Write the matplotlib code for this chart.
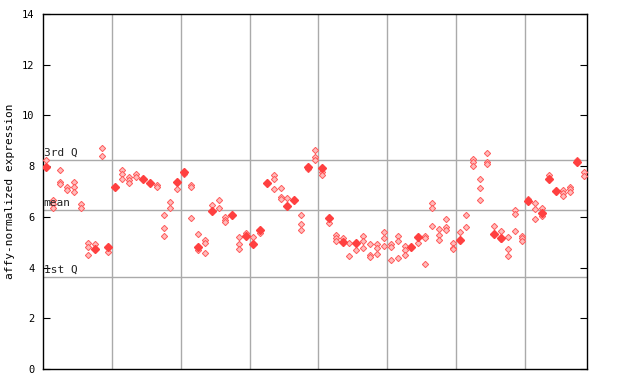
import matplotlib
matplotlib.use("Agg")
import matplotlib.pyplot as plt

# per-sample values (light hatched diamonds) and the highlighted (solid) value
sample_values = [
    [8.24], [6.66, 6.5, 6.35], [7.85, 7.37, 7.3], [7.17, 7.06], [7.37, 7.17, 6.98],
    [6.5, 6.35], [4.97, 4.8, 4.5], [4.93], [8.7, 8.4], [4.6],
    [], [7.85, 7.7, 7.5], [7.57, 7.45, 7.33], [7.7, 7.57], [],
    [], [7.25, 7.18], [6.07, 5.56, 5.24], [6.58, 6.35], [7.09],
    [7.7], [7.25, 7.18, 5.95], [5.32, 4.7], [5.08, 4.97, 4.57], [6.47],
    [6.66, 6.35], [6.0, 5.88, 5.8], [], [5.2, 4.93, 4.73], [5.36],
    [5.2], [5.36], [], [7.65, 7.49, 7.1], [7.14, 6.78, 6.7],
    [6.74], [], [6.07, 5.72, 5.48], [7.89], [8.64, 8.36, 8.24],
    [7.77, 7.65], [5.76], [5.28, 5.17, 5.05], [5.17], [4.97, 4.46],
    [4.69], [5.24, 5.05, 4.77], [4.93, 4.5, 4.42], [4.93, 4.77, 4.53], [5.4, 5.17, 4.85],
    [4.93, 4.81, 4.3], [5.24, 5.05, 4.38], [4.85, 4.69, 4.5], [], [4.97],
    [5.24, 5.17, 4.14], [6.55, 6.35, 5.64], [5.52, 5.28, 5.08], [5.91, 5.6, 5.48], [4.97, 4.77, 4.73],
    [5.4], [6.07, 5.6], [8.28, 8.16, 8.0], [7.49, 7.14, 6.66], [8.52, 8.16, 8.08],
    [5.64], [5.44, 5.13], [5.2, 4.73, 4.46], [6.27, 6.11, 5.44], [5.24, 5.17, 5.05],
    [6.7], [6.55, 6.31, 5.91], [6.35, 6.03], [7.65], [],
    [7.06, 6.94, 6.82], [7.18, 7.1, 6.98], [8.24], [7.77, 7.61],
]
highlight = [
    7.98, None, None, None, None, None, None, 4.72, None, 4.8,
    7.18, None, None, None, 7.5, 7.33, None, None, None, 7.36,
    7.77, None, 4.8, None, 6.23, None, None, 6.07, None, 5.24,
    4.93, 5.48, 7.33, None, None, 6.43, 6.66, None, 7.96, None,
    7.92, 5.95, None, 5.0, None, 4.97, None, None, None, None,
    None, None, None, 4.8, 5.2, None, None, None, None, None,
    5.08, None, None, None, None, 5.32, 5.17, None, None, None,
    6.62, None, 6.15, 7.49, 7.02, None, None, 8.16, None,
]
group_edges = [10, 20, 30, 40, 50, 60, 70]
q3, mean, q1 = 8.24, 6.27, 3.63
yticks = [0, 2, 4, 6, 8, 10, 12, 14]

mono = "DejaVu Sans Mono"
fig = plt.figure(figsize=(6.4, 3.84), dpi=100)
ax = fig.add_axes([43 / 640, 15 / 384, 544 / 640, 355 / 384])

for g in group_edges:
    ax.axvline(g, color="#aaaaaa", lw=1, zorder=1)
for v in (q3, mean, q1):
    ax.axhline(v, color="#aaaaaa", lw=1, zorder=1)

for i, vals in enumerate(sample_values):
    ax.plot([i + 0.5] * len(vals), vals, "D", ms=3.2, mfc="#ffbcbc",
            mec="#ff5a5a", mew=0.7, ls="none", zorder=3)
for i, v in enumerate(highlight):
    if v is not None:
        ax.plot(i + 0.5, v, "D", ms=4.2, color="#ff4040", ls="none", zorder=4)

for label, v in (("3rd Q", q3), ("mean", mean), ("1st Q", q1)):
    ax.text(0.1, v + 0.08, label, family=mono, fontsize=8, color="#222222",
            va="bottom", ha="left", zorder=5)

ax.set_xlim(0, 79)
ax.set_ylim(0, 14)
ax.set_xticks([])
ax.set_yticks(yticks)
ax.set_yticklabels([str(t) for t in yticks], family=mono, fontsize=7.5)
ax.tick_params(axis="y", direction="in", length=5, right=True, left=True, pad=6)
ax.set_ylabel("affy-normalized expression", family=mono, fontsize=8, labelpad=5)
for s in ax.spines.values():
    s.set_linewidth(1)

fig.savefig("out.png", dpi=100)
